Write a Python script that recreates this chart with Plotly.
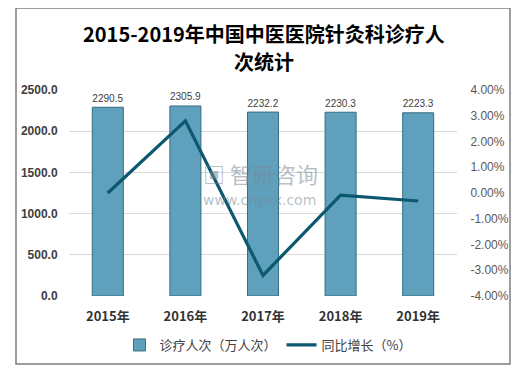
import plotly.graph_objects as go

years = ["2015年", "2016年", "2017年", "2018年", "2019年"]
visits = [2290.5, 2305.9, 2232.2, 2230.3, 2223.3]
growth = [0.0, 2.80, -3.20, -0.08, -0.31]

left_ticks = [0, 500, 1000, 1500, 2000, 2500]
right_ticks = [-4, -3, -2, -1, 0, 1, 2, 3, 4]
right_labels = [f"{v:.2f}%" for v in right_ticks]

FONT = "Noto Sans CJK SC"

# page body has an 8px default margin; compensate
OFF = 8
FW, FH = 521 - OFF, 373 - 2 * OFF

W0, W1 = 69 - OFF, 457 - OFF
H0, H1 = 90 - OFF, 296 - OFF
def px(x):
    return (x - OFF - W0) / (W1 - W0)
def py(y):
    return (H1 - (y - OFF)) / (H1 - H0)

fig = go.Figure()
fig.add_trace(go.Bar(
    x=years, y=visits, name="诊疗人次（万人次）",
    marker=dict(color="#5fa0bc", line=dict(color="#356d82", width=1)),
    width=0.4,
    text=[f"{v:.1f}" for v in visits], textposition="outside",
    textfont=dict(family="Liberation Sans, Arial", size=12, color="#404040"),
    cliponaxis=False,
))
fig.add_trace(go.Scatter(
    x=years, y=growth, name="同比增长（%）", yaxis="y2",
    mode="lines", line=dict(color="#0c5870", width=3.2),
))

fig.update_layout(
    width=FW, height=FH,
    margin=dict(l=W0, r=FW - W1, t=H0, b=FH - H1, autoexpand=False),
    paper_bgcolor="white", plot_bgcolor="white",
    font=dict(family=FONT, color="#404040"),
    showlegend=True,
    legend=dict(orientation="h", x=px(268), xanchor="center",
                y=py(345), yanchor="middle",
                font=dict(family=FONT, size=13, color="#404040"),
                itemwidth=30, traceorder="normal"),
    xaxis=dict(tickfont=dict(family=FONT, size=13, color="#333333", weight="bold"),
               showgrid=False, showline=False, ticks="outside", ticklen=8, tickcolor="white"),
    yaxis=dict(range=[0, 2500], tickvals=left_ticks, tickformat=".1f",
               tickfont=dict(family="Liberation Sans, Arial", size=12, color="#404040", weight="bold"),
               gridcolor="#d9d9d9", gridwidth=1, zeroline=False, showline=False,
               ticks="outside", ticklen=8, tickcolor="white"),
    yaxis2=dict(range=[-4, 4], tickmode="array", tickvals=right_ticks, ticktext=right_labels,
                overlaying="y", side="right", showgrid=False, zeroline=False, showline=False,
                tickfont=dict(family="Liberation Sans, Arial", size=12, color="#595959"),
                ticks="outside", ticklen=10, tickcolor="white"),
    bargap=0.6,
)

# title (two lines)
fig.add_annotation(text="2015-2019年中国中医医院针灸科诊疗人", xref="paper", yref="paper",
                   x=px(264), y=py(34), xanchor="center", yanchor="middle", showarrow=False,
                   font=dict(family=FONT, size=20, color="#000000", weight="bold"))
fig.add_annotation(text="次统计", xref="paper", yref="paper",
                   x=px(264), y=py(61), xanchor="center", yanchor="middle", showarrow=False,
                   font=dict(family=FONT, size=20, color="#000000", weight="bold"))

# outer frame
fig.add_shape(type="rect", xref="paper", yref="paper",
              x0=px(16), x1=px(510), y0=py(364), y1=py(8),
              line=dict(color="#7f7f7f", width=1.5), layer="below")

# watermark
fig.add_annotation(text="<b>▣</b> 智研咨询", xref="paper", yref="paper",
                   x=px(260), y=py(173), xanchor="center", yanchor="middle", showarrow=False,
                   font=dict(family=FONT, size=22, color="rgba(120,135,150,0.55)"))
fig.add_annotation(text="www.chyxx.com", xref="paper", yref="paper",
                   x=px(259), y=py(200), xanchor="center", yanchor="middle", showarrow=False,
                   font=dict(family="DejaVu Sans", size=14, color="rgba(120,135,150,0.55)"))

fig.write_html("out.html")
